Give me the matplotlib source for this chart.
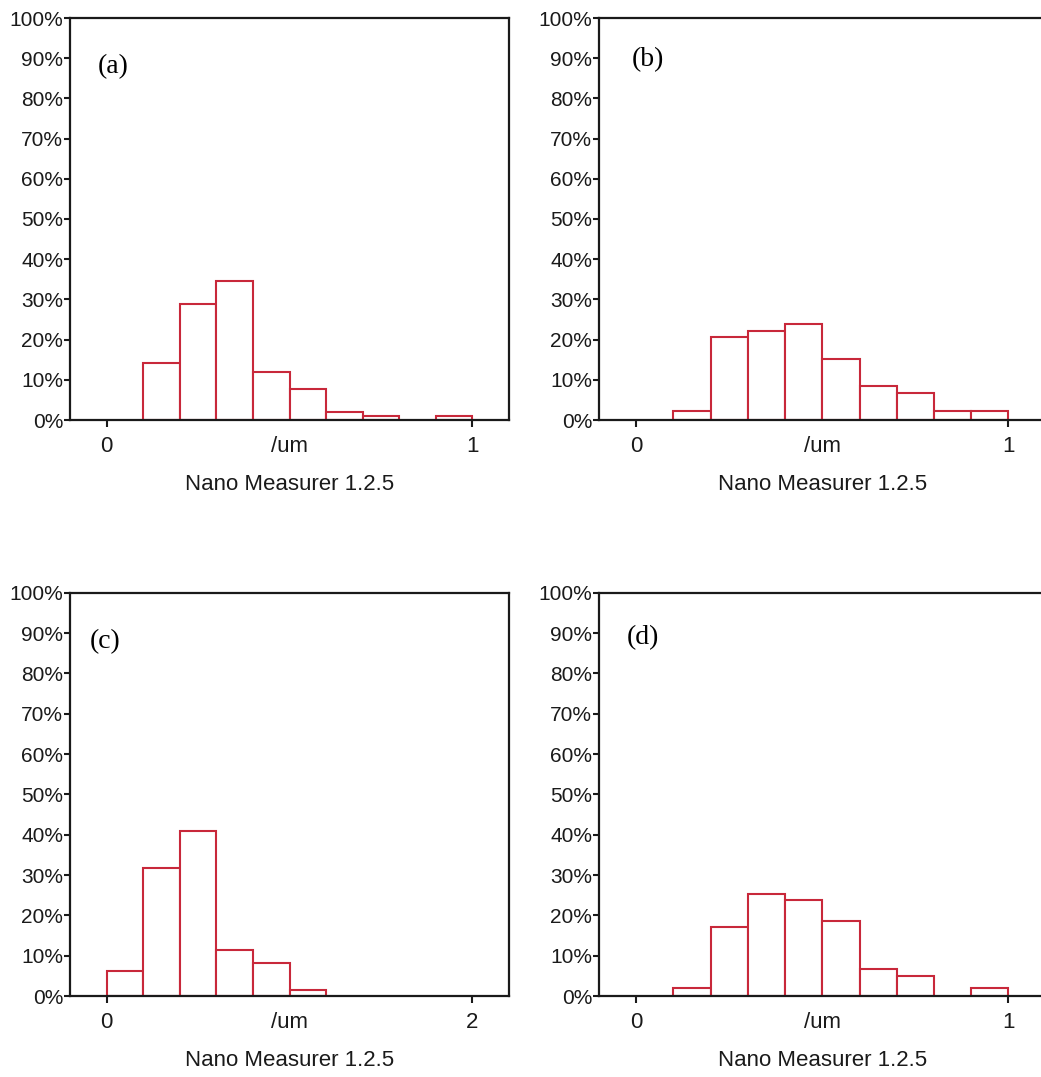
import matplotlib
matplotlib.use('Agg')
import numpy as np
import matplotlib.pyplot as plt

# bin left edges (um) and heights (%)
edges_a = [0.1, 0.2, 0.3, 0.4, 0.5, 0.6, 0.7, 0.8, 0.9]
pct_a = [14.2, 28.8, 34.5, 12.0, 7.8, 2.1, 1.0, 0.0, 1.0]

edges_b = [0.1, 0.2, 0.3, 0.4, 0.5, 0.6, 0.7, 0.8, 0.9]
pct_b = [2.3, 20.6, 22.2, 23.8, 15.1, 8.5, 6.7, 2.2, 2.2]

edges_c = [0.0, 0.2, 0.4, 0.6, 0.8, 1.0]
pct_c = [6.2, 31.7, 40.8, 11.5, 8.2, 1.4]

edges_d = [0.1, 0.2, 0.3, 0.4, 0.5, 0.6, 0.7, 0.8, 0.9]
pct_d = [2.1, 17.1, 25.3, 23.8, 18.7, 6.7, 5.0, 0.0, 2.1]

yticks = list(range(0, 101, 10))
ylabels = ['%d%%' % v for v in yticks]
xlabel = 'Nano Measurer 1.2.5'

plt.rcParams['font.family'] = ['Liberation Sans', 'DejaVu Sans']

W, H = 1041, 1077
fig = plt.figure(figsize=(W / 100.0, H / 100.0), dpi=100)


def px_axes(left, right, top, bottom):
    return fig.add_axes([left / W, 1 - bottom / H, (right - left) / W, (bottom - top) / H])


def panel(ax, edges, pct, width, xmax, tag, tagpos, right_spine=True):
    e = np.array(edges)
    p = np.array(pct)
    keep = p > 0
    ax.bar(e[keep], p[keep], width=width, align='edge', facecolor='white',
           edgecolor='#c8283a', linewidth=1.5, zorder=1)
    ax.set_xlim(-0.1 * xmax, 1.1 * xmax)
    ax.set_ylim(0, 100)
    ax.set_yticks(yticks)
    ax.set_yticklabels(ylabels, fontsize=15)
    ax.set_xticks([0, 0.5 * xmax, xmax])
    ax.set_xticklabels(['0', '/um', '%g' % xmax], fontsize=16)
    ax.xaxis.get_major_ticks()[1].tick1line.set_visible(False)
    ax.tick_params(axis='y', length=4, width=1.5, pad=1, colors='#1a1a1a')
    ax.tick_params(axis='x', length=5, width=1.5, pad=6.5, colors='#1a1a1a')
    for s in ax.spines.values():
        s.set_linewidth(1.6)
        s.set_color('#1a1a1a')
    ax.spines['right'].set_visible(right_spine)
    ax.set_xlabel(xlabel, fontsize=16, labelpad=12, color='#1a1a1a')
    ax.text(tagpos[0], tagpos[1], tag, transform=ax.transAxes, ha='center', va='center',
            fontsize=20, family='Liberation Serif')


ax1 = px_axes(70, 509, 18, 420)
panel(ax1, edges_a, pct_a, 0.1, 1, '(a)', (0.098, 0.878))

ax2 = px_axes(599, 1045.6, 18, 420)
panel(ax2, edges_b, pct_b, 0.1, 1, '(b)', (0.110, 0.896), right_spine=False)

ax3 = px_axes(70, 509, 592.7, 996)
panel(ax3, edges_c, pct_c, 0.2, 2, '(c)', (0.080, 0.878))

ax4 = px_axes(599, 1045.6, 592.7, 996)
panel(ax4, edges_d, pct_d, 0.1, 1, '(d)', (0.0986, 0.888), right_spine=False)

plt.savefig('out.png', dpi=100)
